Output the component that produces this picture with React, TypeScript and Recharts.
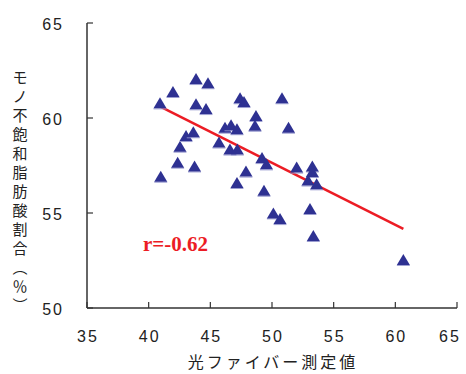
import React from 'react';
import { ScatterChart, Scatter, XAxis, YAxis, ReferenceLine } from 'recharts';

const xValues = [
  40.92, 40.98, 41.97, 42.54, 42.35, 43.03, 43.62, 43.84, 43.84, 43.72,
  44.65, 44.81, 45.7, 46.19, 46.68, 47.16, 46.59, 47.19, 47.16, 47.41,
  47.73, 47.89, 48.7, 48.62, 49.19, 49.55, 49.35, 50.11, 50.65, 50.81,
  51.34, 52.0, 53.27, 53.27, 52.92, 53.62, 53.08, 53.35, 60.65,
];
const yValues = [
  60.77, 56.91, 61.37, 58.49, 57.65, 59.05, 59.25, 62.05, 60.72, 57.45,
  60.47, 61.83, 58.71, 59.49, 59.62, 59.41, 58.34, 58.34, 56.58, 61.04,
  60.84, 57.18, 60.11, 59.59, 57.89, 57.56, 56.17, 54.98, 54.68, 61.04,
  59.49, 57.39, 57.45, 57.16, 56.71, 56.51, 55.21, 53.79, 52.53,
];
const points = xValues.map((x, i) => ({ x, y: yValues[i] }));

const xTicks = [35, 40, 45, 50, 55, 60, 65];
const yTicks = [50, 55, 60, 65];
const fitLine = [
  { x: 40.86, y: 60.63 },
  { x: 60.65, y: 54.16 },
];
const xTitle = '光ファイバー測定値';
const yTitleChars = ['モ', 'ノ', '不', '飽', '和', '脂', '肪', '酸', '割', '合', '︵', '％', '︶'];
const rLabel = 'r=-0.62';

const TICK_FONT = '"Liberation Sans", Arial, sans-serif';
const CJK_FONT = '"Noto Sans CJK JP", sans-serif';
const AXIS_COLOR = '#333';
const TEXT_COLOR = '#222';
const MARK_COLOR = '#2e3192';
const LINE_COLOR = '#ec1c24';

const XTick = (props: any) => {
  const { x, y, payload } = props;
  const isLast = payload.value === xTicks[xTicks.length - 1];
  return (
    <g>
      <line x1={x} x2={x} y1={y} y2={y - 6} stroke={AXIS_COLOR} strokeWidth={1.2} />
      <text
        x={isLast ? x - 7 : x + 1}
        y={y + 34}
        textAnchor="middle"
        fontSize={16}
        letterSpacing={2}
        fontFamily={TICK_FONT}
        fill={TEXT_COLOR}
      >
        {payload.value}
      </text>
    </g>
  );
};

const YTick = (props: any) => {
  const { x, y, payload } = props;
  return (
    <g>
      <line x1={x} x2={x + 6} y1={y} y2={y} stroke={AXIS_COLOR} strokeWidth={1.2} />
      <text
        x={x - 23}
        y={y + 7}
        textAnchor="end"
        fontSize={16}
        letterSpacing={2}
        fontFamily={TICK_FONT}
        fill={TEXT_COLOR}
      >
        {payload.value}
      </text>
    </g>
  );
};

const Triangle = (props: any) => {
  const { cx, cy } = props;
  if (cx == null || cy == null) return null;
  const pts = `${cx},${cy - 6} ${cx - 6.5},${cy + 5} ${cx + 6.5},${cy + 5}`;
  return (
    <g>
      <line x1={cx - 6.5} x2={cx + 6.5} y1={cy + 5.5} y2={cy + 5.5} stroke="#9a9cd0" strokeWidth={1} />
      <polygon points={pts} fill={MARK_COLOR} />
    </g>
  );
};

export default function App() {
  return (
    <div style={{ position: 'absolute', left: 0, top: 0, width: 466, height: 374, background: '#fff' }}>
      <ScatterChart width={466} height={374} margin={{ top: 23, right: 9, bottom: 36, left: 47 }}>
        <XAxis
          type="number"
          dataKey="x"
          domain={[35, 65]}
          ticks={xTicks}
          interval={0}
          height={30}
          tickSize={0}
          tickMargin={0}
          tickLine={false}
          tick={<XTick />}
          axisLine={{ stroke: AXIS_COLOR, strokeWidth: 1.5 }}
          allowDataOverflow
        />
        <YAxis
          type="number"
          dataKey="y"
          domain={[50, 65]}
          ticks={yTicks}
          interval={0}
          width={40}
          tickSize={0}
          tickMargin={0}
          tickLine={false}
          tick={<YTick />}
          axisLine={{ stroke: AXIS_COLOR, strokeWidth: 1.5 }}
          allowDataOverflow
        />
        <Scatter data={points} shape={(p: any) => <Triangle {...p} />} isAnimationActive={false} />
        <ReferenceLine
          segment={fitLine}
          stroke={LINE_COLOR}
          strokeWidth={2.5}
          ifOverflow="visible"
        />
      </ScatterChart>
      <svg
        width={466}
        height={374}
        style={{ position: 'absolute', left: 0, top: 0, pointerEvents: 'none' }}
      >
        <text
          x={273}
          y={368}
          textAnchor="middle"
          fontSize={16}
          letterSpacing={3}
          fontFamily={CJK_FONT}
          fill={TEXT_COLOR}
        >
          {xTitle}
        </text>
        <text fontSize={15} fontFamily={CJK_FONT} fill={TEXT_COLOR} textAnchor="middle" dominantBaseline="central">
          {yTitleChars.map((c, i) => (
            <tspan key={i} x={20} y={76 + i * 19}>
              {c}
            </tspan>
          ))}
        </text>
        <text
          x={143}
          y={251}
          fontSize={21}
          fontWeight="bold"
          fontFamily='"Liberation Serif", "Times New Roman", serif'
          fill={LINE_COLOR}
        >
          {rLabel}
        </text>
      </svg>
    </div>
  );
}
